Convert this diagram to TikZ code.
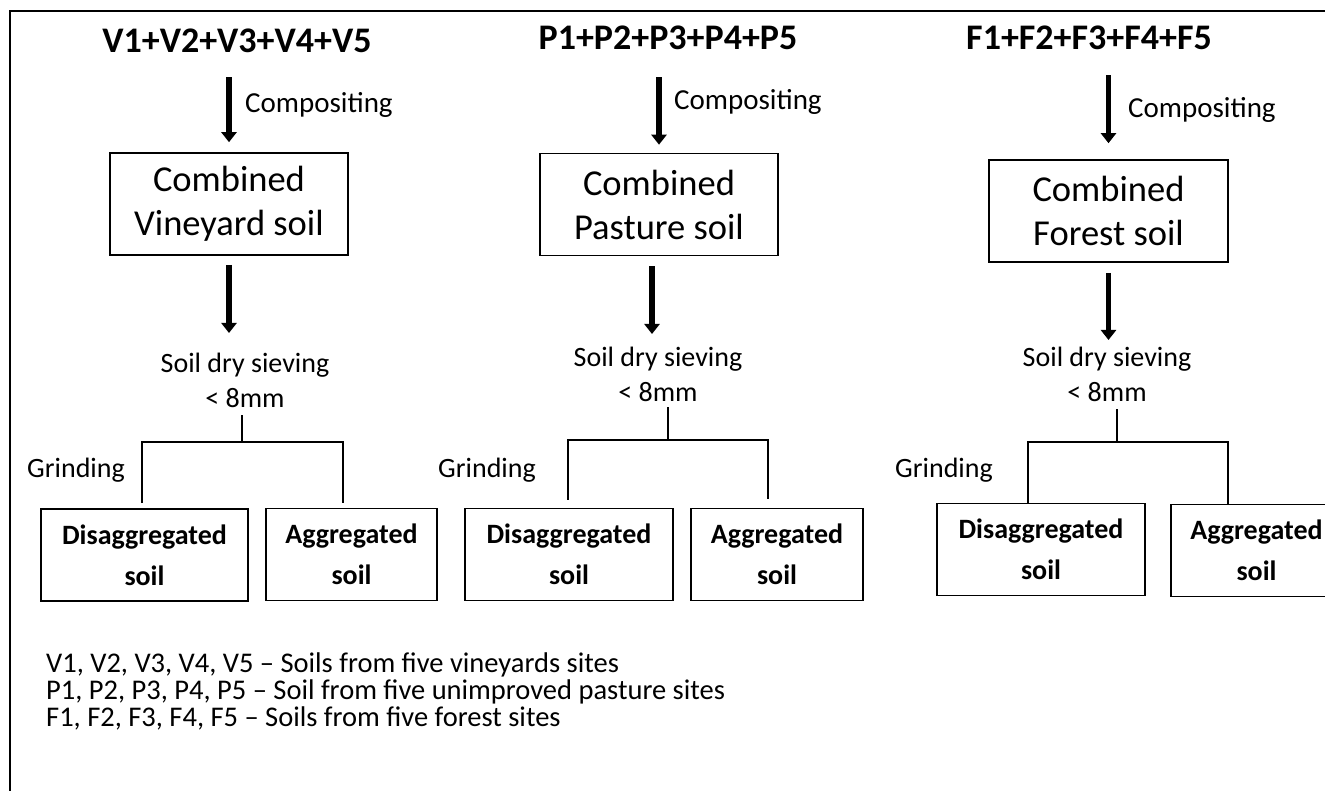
\documentclass[tikz,border=0pt]{standalone}
\usepackage{fontspec}
\setmainfont{Carlito}
\usetikzlibrary{arrows.meta}

\begin{document}
\begin{tikzpicture}[x=1pt, y=-1pt,
  every node/.style={inner sep=0pt, font=\fontsize{28}{35}\selectfont},
  heading/.style={font=\fontsize{36}{40}\selectfont\bfseries},
  combo/.style={draw, line width=1.6pt, minimum width=238pt, minimum height=102pt, align=center, font=\fontsize{36.5}{44}\selectfont},
  soilbox/.style={draw, line width=1.6pt, minimum height=92pt, align=center, font=\fontsize{28}{41}\selectfont\bfseries},
  note/.style={anchor=base west, font=\fontsize{28.5}{30}\selectfont},
  flow/.style={line width=5.5pt, -{Triangle[width=15pt,length=10pt]}},
  fork/.style={line width=2.2pt}]
\useasboundingbox (0,0) rectangle (1325,791);
\clip (0,0) rectangle (1325,791);
\draw[line width=2pt] (10,791) -- (10,11) -- (1325,11);

% vineyard
\node[heading, anchor=base] (vtitle) at (237,53) {V1+V2+V3+V4+V5};
\node[combo] (vcomb) at (229,204) {Combined\\Vineyard soil};
\node[anchor=base west, font=\fontsize{29}{35}\selectfont] (vcomp) at (245,113) {Compositing};
\node[anchor=north, align=center] (vsieve) at (245,353) {Soil dry sieving\\< 8mm};
\node[anchor=base west] (vgrind) at (27,477) {Grinding};
\node[soilbox, minimum width=207pt] (vdis) at (144.5,555) {Disaggregated\\soil};
\node[soilbox, minimum width=171pt] (vagg) at (351.5,554.5) {Aggregated\\soil};
\coordinate (vfork) at (242,442);
\draw[flow, shorten <=24pt, shorten >=10pt] (vtitle.south -| vcomb.north) -- (vcomb.north);
\draw[flow, shorten <=9pt, shorten >=20pt] (vcomb.south) -- (vcomb.south |- vsieve.north);
\draw[fork, shorten <=7pt] (vsieve.south -| vfork) -- (vfork);
\draw[fork] ([xshift=-2.5pt,yshift=5pt]vdis.north) |- (vfork) -| ([xshift=-8.5pt,yshift=5pt]vagg.north);

% pasture
\node[heading, anchor=base] (ptitle) at (668,50) {P1+P2+P3+P4+P5};
\node[combo] (pcomb) at (659,204.5) {Combined\\Pasture soil};
\node[anchor=base west, font=\fontsize{29}{35}\selectfont] (pcomp) at (674,110) {Compositing};
\node[anchor=north, align=center] (psieve) at (658,347) {Soil dry sieving\\< 8mm};
\node[anchor=base west] (pgrind) at (438,477) {Grinding};
\node[soilbox, minimum width=208pt] (pdis) at (569,554.5) {Disaggregated\\soil};
\node[soilbox, minimum width=172pt] (pagg) at (777,554.5) {Aggregated\\soil};
\coordinate (pfork) at (668,440);
\draw[flow, shorten <=27pt, shorten >=8pt] (ptitle.south -| pcomb.north) -- (pcomb.north);
\draw[flow, shorten <=10pt, shorten >=13pt] ([xshift=-7pt]pcomb.south) -- ([xshift=-7pt]pcomb.south |- psieve.north);
\draw[fork, shorten <=5pt] (psieve.south -| pfork) -- (pfork);
\draw[fork] ([xshift=-1pt,yshift=8pt]pdis.north) |- (pfork) -| ([xshift=-9pt,yshift=9pt]pagg.north);

% forest
\node[heading, anchor=base] (ftitle) at (1089,50) {F1+F2+F3+F4+F5};
\node[combo, minimum width=239pt] (fcomb) at (1108.5,211) {Combined\\Forest soil};
\node[anchor=base west, font=\fontsize{29}{35}\selectfont] (fcomp) at (1128,118) {Compositing};
\node[anchor=north, align=center] (fsieve) at (1107,347) {Soil dry sieving\\< 8mm};
\node[anchor=base west] (fgrind) at (895,477) {Grinding};
\node[soilbox, minimum width=208pt] (fdis) at (1041,549.5) {Disaggregated\\soil};
\node[soilbox, minimum width=171pt] (fagg) at (1256.5,550.5) {Aggregated\\soil};
\coordinate (ffork) at (1117,442);
\draw[flow, shorten <=25pt, shorten >=16pt] (ftitle.south -| fcomb.north) -- (fcomb.north);
\draw[flow, shorten <=10pt, shorten >=7pt] (fcomb.south) -- (fcomb.south |- fsieve.north);
\draw[fork, shorten <=7pt] (fsieve.south -| ffork) -- (ffork);
\draw[fork] ([xshift=-13pt]fdis.north) |- (ffork) -| ([xshift=-28.5pt]fagg.north);

% legend
\node[note] (vnote) at (46,672) {V1, V2, V3, V4, V5 -- Soils from five vineyards sites};
\node[note] (pnote) at (46,699) {P1, P2, P3, P4, P5 -- Soil from five unimproved pasture sites};
\node[note] (fnote) at (46,726) {F1, F2, F3, F4, F5 -- Soils from five forest sites};
\end{tikzpicture}
\end{document}
